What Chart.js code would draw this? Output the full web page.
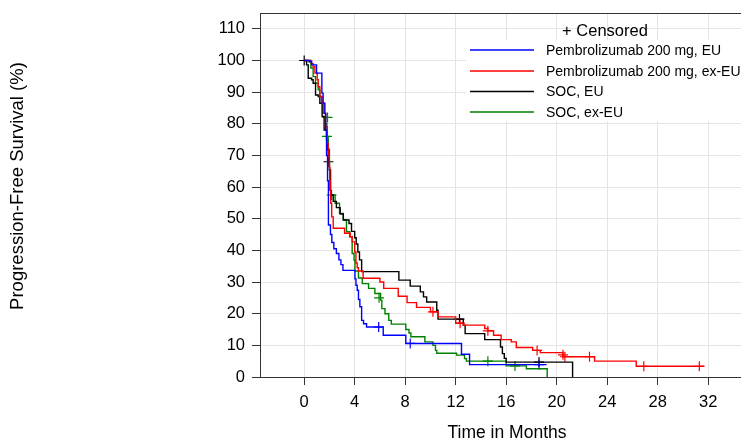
<!DOCTYPE html>
<html>
<head>
<meta charset="utf-8">
<script src="https://cdn.jsdelivr.net/npm/chart.js@4/dist/chart.umd.min.js"></script>
<style>
  html, body { margin: 0; padding: 0; background: #fff; }
  #wrap { width: 741px; height: 439px; }
</style>
</head>
<body>
<div id="wrap"><canvas id="kmChart" width="741" height="439"></canvas></div>
<script>
// Kaplan-Meier curves: time (months) and PFS (%) after each step
var blueT = [0, 0.45, 0.59, 0.98, 1.40, 1.50, 1.64, 1.70, 1.77, 1.85, 1.92, 2.08, 2.19, 2.35, 2.55, 2.75, 2.91, 3.07, 4.02, 4.10, 4.20, 4.30, 4.41, 4.55, 4.70, 4.94, 6.26, 8.05, 12.46, 13.10, 19.20];
var blueS = [100, 99.6, 98.6, 96, 89.7, 86.5, 83.3, 78, 70, 62, 48, 45, 42.5, 40.5, 39, 37, 35.5, 33.7, 31, 29, 27.4, 24.5, 22.2, 17.9, 16.8, 15.8, 13.2, 10.6, 7.2, 3.9, 3.9];
var blueCensT = [5.9, 8.4, 18.6];
var blueCensS = [15.8, 10.6, 3.9];

var redT = [0, 0.58, 0.71, 0.85, 1.03, 1.11, 1.24, 1.42, 1.58, 1.69, 1.82, 1.90, 1.98, 2.03, 2.06, 2.10, 2.18, 2.30, 3.20, 3.65, 3.80, 4.00, 4.10, 4.20, 4.30, 4.67, 6.00, 6.30, 7.45, 8.15, 8.90, 10.00, 10.60, 12.00, 12.60, 14.30, 14.55, 15.00, 15.60, 16.40, 16.80, 18.10, 18.70, 20.50, 23.00, 26.30, 31.70];
var redS = [100, 99, 98, 96, 93.9, 91.7, 88.6, 86.5, 83.3, 79.1, 73.8, 69.6, 66.4, 62.2, 59, 54.9, 50.6, 47, 45.4, 44.3, 42.7, 39.5, 36, 34.5, 33.5, 31.2, 30, 28, 25.5, 23.5, 22, 20.6, 19, 17, 16.4, 15.3, 14.6, 13.2, 11.8, 11.1, 9.3, 8.4, 7.7, 6.4, 5.0, 3.4, 3.4];
var redCensT = [10.2, 12.35, 14.55, 18.45, 20.5, 20.65, 22.6, 26.9, 31.3];
var redCensS = [20.6, 17, 14.6, 8.4, 7.0, 6.4, 6.4, 3.4, 3.4];

var blackT = [0, 0.19, 0.32, 0.59, 0.71, 0.90, 1.11, 1.24, 1.42, 1.58, 1.77, 1.85, 1.92, 2.00, 2.05, 2.10, 2.30, 2.55, 2.85, 3.10, 3.55, 3.75, 4.00, 4.12, 4.25, 4.38, 4.55, 7.50, 8.40, 9.20, 9.45, 9.70, 10.50, 10.60, 12.60, 12.75, 14.30, 15.55, 15.70, 15.85, 16.00, 21.26];
var blackS = [100, 98.6, 94.4, 93.9, 92.8, 89.1, 88.6, 86.5, 82.3, 78, 74.9, 71.7, 68, 65.4, 59, 57.5, 55.5, 53.5, 51.5, 49.6, 48.5, 46, 44, 42, 39.5, 37, 33.3, 30.6, 28.7, 26.9, 25.3, 23.7, 21.1, 18.3, 16.4, 13.7, 11.8, 9.5, 7.4, 5.9, 4.7, 0];
var blackCensT = [0, 1.92, 12.3, 18.6];
var blackCensS = [100, 68, 18.3, 4.7];

var greenT = [0, 0.35, 0.53, 0.71, 0.90, 1.11, 1.24, 1.38, 1.50, 1.70, 1.80, 1.90, 2.00, 2.10, 2.45, 2.80, 3.10, 3.35, 3.60, 3.80, 3.95, 4.02, 4.30, 4.60, 5.10, 5.60, 6.05, 6.15, 6.40, 6.70, 6.90, 8.05, 8.30, 8.45, 9.56, 10.20, 10.40, 10.50, 12.07, 12.70, 12.85, 16.00, 17.60, 19.25];
var greenS = [100, 99.6, 97.6, 94.9, 92.8, 90.7, 88.6, 86.5, 83.3, 80, 76, 72, 65.4, 57.5, 54.9, 51.7, 49.6, 45.9, 44.3, 39, 36.9, 33.5, 31.3, 29.5, 28, 26.4, 24.3, 21.6, 20, 17.9, 16.7, 15, 13.9, 12.7, 11.1, 10, 8.4, 7.5, 6.9, 5.8, 5.0, 3.5, 2.6, 0];
var greenCensT = [1.85, 1.80, 2.17, 5.93, 14.55, 16.7];
var greenCensS = [82, 76, 57.5, 25, 5.0, 3.5];

var seriesNames = ['Pembrolizumab 200 mg, EU', 'Pembrolizumab 200 mg, ex-EU', 'SOC, EU', 'SOC, ex-EU'];
var seriesColors = ['#0000ff', '#ff0000', '#000000', '#008000'];

var xTicks = [0, 4, 8, 12, 16, 20, 24, 28, 32];
var yTicks = [0, 10, 20, 30, 40, 50, 60, 70, 80, 90, 100, 110];

var FONT = '"Liberation Sans", Arial, Helvetica, sans-serif';

function pts(t, s) {
    return t.map((v, i) => ({ x: v, y: s[i] }));
}

function curve(idx, t, s) {
    return {
        label: seriesNames[idx],
        data: pts(t, s),
        showLine: true,
        stepped: true,
        borderColor: seriesColors[idx],
        borderWidth: 1.4,
        pointRadius: 0,
        fill: false
    };
}

function censors(idx, t, s) {
    return {
        label: seriesNames[idx] + ' censored',
        data: pts(t, s),
        showLine: false,
        pointStyle: 'cross',
        pointRadius: 5,
        borderColor: seriesColors[idx],
        borderWidth: 1.2
    };
}

// frame top, axis titles and the legend box in the upper right, like the SAS output
var kmDecor = {
    id: 'kmDecor',
    afterDraw(chart) {
        var ctx = chart.ctx;
        var area = chart.chartArea;
        ctx.save();
        ctx.strokeStyle = '#333';
        ctx.lineWidth = 1;
        ctx.beginPath();
        ctx.moveTo(area.left, area.top + 0.5);
        ctx.lineTo(area.right, area.top + 0.5);
        ctx.stroke();

        ctx.fillStyle = '#000';
        ctx.textAlign = 'center';
        ctx.textBaseline = 'middle';
        ctx.font = '17.5px ' + FONT;
        ctx.fillText('Time in Months', 507, 433);
        ctx.save();
        ctx.translate(18, 186);
        ctx.rotate(-Math.PI / 2);
        ctx.font = '18.5px ' + FONT;
        ctx.fillText('Progression-Free Survival (%)', 0, 0);
        ctx.restore();

        ctx.fillStyle = '#fff';
        ctx.fillRect(466, 40, 275, 81);

        ctx.fillStyle = '#000';
        ctx.font = '16.5px ' + FONT;
        ctx.fillText('+ Censored', 605, 31);

        ctx.font = '14px ' + FONT;
        ctx.textAlign = 'left';
        var rows = [50, 71, 91.5, 112];
        seriesNames.forEach((name, i) => {
            ctx.strokeStyle = seriesColors[i];
            ctx.lineWidth = 1.4;
            ctx.beginPath();
            ctx.moveTo(470, rows[i]);
            ctx.lineTo(534, rows[i]);
            ctx.stroke();
            ctx.fillStyle = '#000';
            ctx.fillText(name, 546, rows[i] + 1);
        });
        ctx.restore();
    }
};

var kmChart = new Chart(document.getElementById('kmChart'), {
    type: 'scatter',
    data: {
        datasets: [
            curve(0, blueT, blueS),
            curve(1, redT, redS),
            curve(2, blackT, blackS),
            curve(3, greenT, greenS),
            censors(0, blueCensT, blueCensS),
            censors(1, redCensT, redCensS),
            censors(2, blackCensT, blackCensS),
            censors(3, greenCensT, greenCensS)
        ]
    },
    options: {
        responsive: false,
        animation: false,
        layout: { autoPadding: false, padding: { top: 13, left: 0, right: 0, bottom: 0 } },
        plugins: {
            legend: { display: false },
            tooltip: { enabled: false }
        },
        scales: {
            x: {
                type: 'linear',
                min: -3.5,
                max: 34.6,
                afterBuildTicks: scale => { scale.ticks = xTicks.map(v => ({ value: v })); },
                afterFit: scale => {
                    scale.height = 62;
                    scale.paddingLeft = 0;
                    scale.paddingRight = 0;
                },
                ticks: {
                    color: '#000',
                    font: { family: FONT, size: 16.5 },
                    padding: 8,
                    maxRotation: 0
                },
                grid: { color: '#e4e4e4', tickColor: '#333', tickLength: 8 },
                border: { display: true, color: '#333', width: 1 }
            },
            y: {
                type: 'linear',
                min: 0,
                max: 115,
                afterBuildTicks: scale => { scale.ticks = yTicks.map(v => ({ value: v })); },
                afterFit: scale => {
                    scale.width = 260;
                    scale.paddingTop = 0;
                    scale.paddingBottom = 0;
                },
                ticks: {
                    color: '#000',
                    font: { family: FONT, size: 16.5 },
                    padding: 7
                },
                grid: { color: '#e4e4e4', tickColor: '#333', tickLength: 8 },
                border: { display: true, color: '#333', width: 1 }
            }
        }
    },
    plugins: [kmDecor]
});
</script>
</body>
</html>
